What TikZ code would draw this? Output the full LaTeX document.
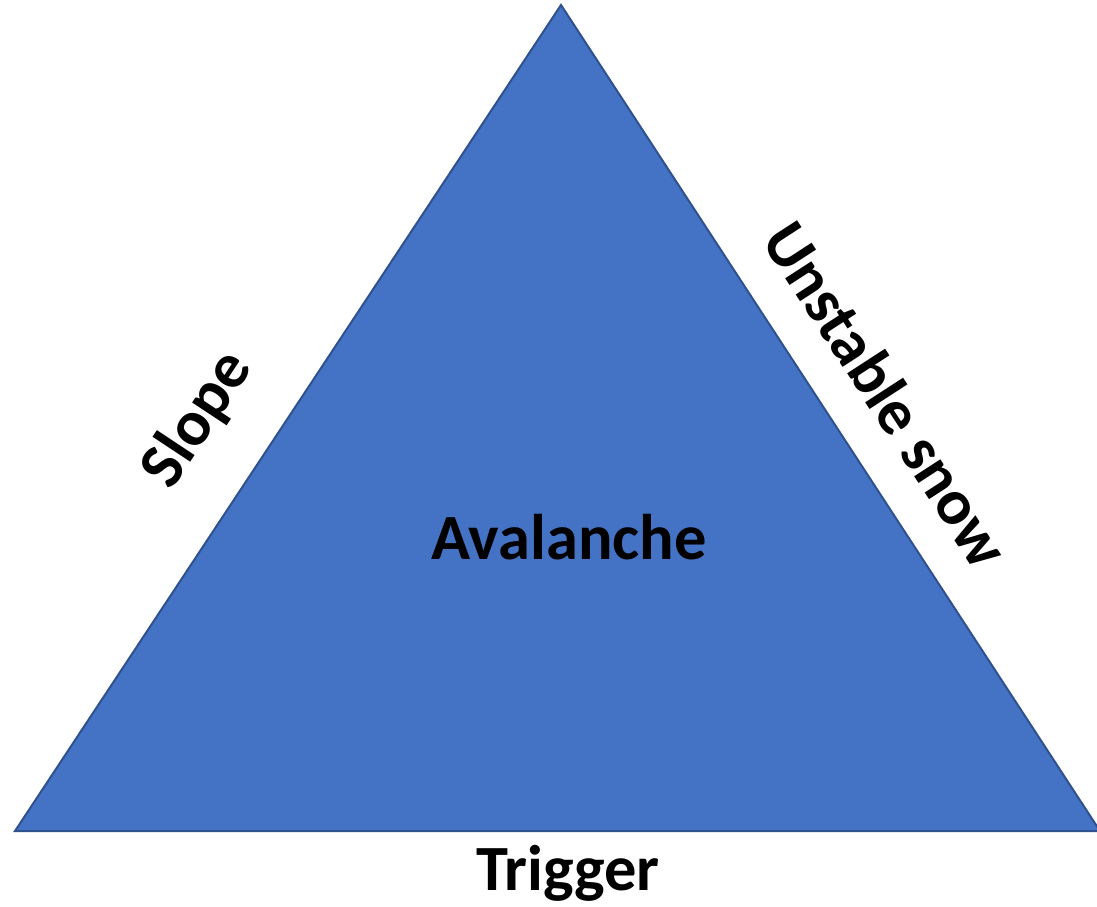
\documentclass[tikz,border=0pt]{standalone}
\usepackage{fontspec}
\setmainfont{Carlito}
\definecolor{triblue}{HTML}{4472C4}
\definecolor{triedge}{HTML}{2F528F}
\begin{document}
\begin{tikzpicture}[x=1pt,y=1pt,
  lbl/.style={font=\bfseries\fontsize{64.5}{64.5}\selectfont, text=black, inner sep=0pt}]
\useasboundingbox (0,0) rectangle (1097,906);
\coordinate (top) at (561,901);
\coordinate (bl) at (15,75);
\coordinate (br) at (1100,75);
\begin{scope}
\clip (0,0) rectangle (1097,906);
\filldraw[fill=triblue, draw=triedge, line width=2pt, line join=miter] (top) -- (bl) -- (br) -- cycle;
\end{scope}
\node[lbl] (aval) at (569,369) {Avalanche};
\node[lbl] (trig) at (568,33) {Trigger};
\node[lbl, rotate=56.5] (slope) at (198,486) {Slope};
\node[lbl, rotate=-57] (snow) at (887,512) {Unstable snow};
\end{tikzpicture}
\end{document}
